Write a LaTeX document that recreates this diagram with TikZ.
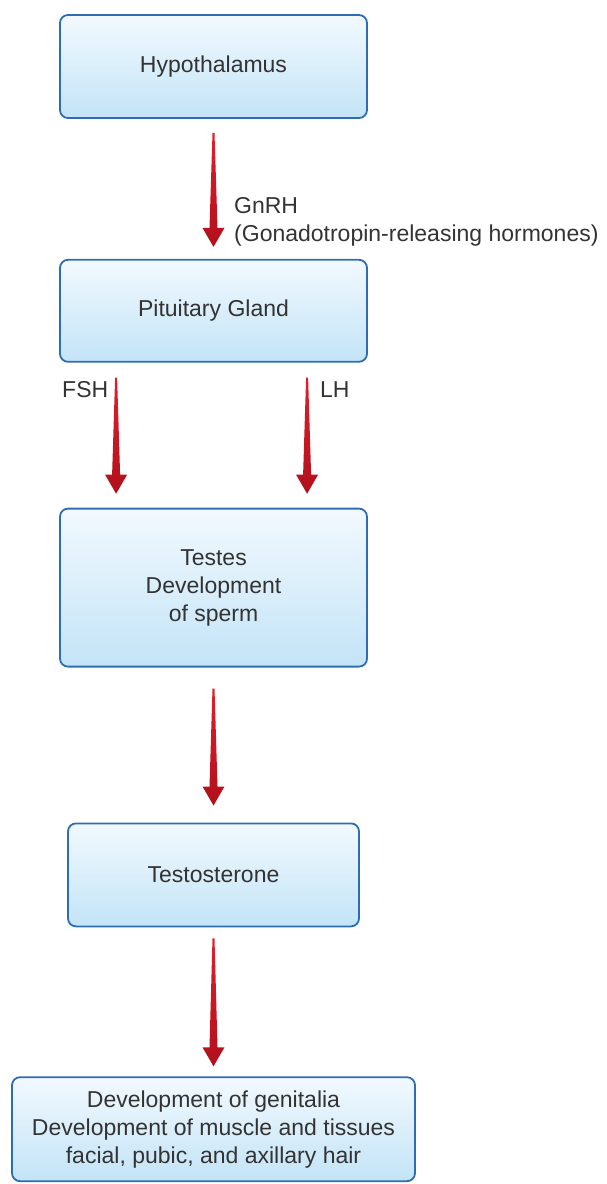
\documentclass[tikz,border=0pt]{standalone}
\usepackage{fontspec}
\setmainfont{Liberation Sans}
\usetikzlibrary{positioning,calc}

\definecolor{boxline}{HTML}{2E6DB4}
\definecolor{boxtop}{HTML}{F2F9FE}
\definecolor{boxbot}{HTML}{C3E4F7}
\definecolor{redtop}{HTML}{E0202A}
\definecolor{redbot}{HTML}{B0101C}
\definecolor{txt}{HTML}{333333}

% tapered red arrow from #1 down to tip #2
\newcommand{\hormonearrow}[2]{%
  \shade[top color=redtop, bottom color=redbot]
    ($(#1)+(-1,0)$) -- ($(#1)+(1,0)$) -- ($(#2)+(4,-19)$) -- ($(#2)+(11,-19)$)
    -- (#2) -- ($(#2)+(-11,-19)$) -- ($(#2)+(-4,-19)$) -- cycle;}

\begin{document}
\begin{tikzpicture}[x=1pt, y=-1pt, node distance=140pt,
  font=\fontsize{23}{28}\selectfont, text=txt]

% Styles
\tikzset{organ/.style={draw=boxline, line width=1.8pt, rounded corners=8pt,
    top color=boxtop, bottom color=boxbot, align=center, inner sep=0pt,
    minimum width=307pt, minimum height=103pt}}
\tikzset{hormone/.style={align=left, inner sep=0pt, anchor=west}}

\useasboundingbox (0,0) rectangle (607,1184);

% Nodes
\node [organ] (hyp) at (213.5,66.5) {Hypothalamus};
\node [organ, below=of hyp, minimum height=102pt] (pit) {Pituitary Gland};
\node [organ, below=145pt of pit, minimum height=158pt] (testes) {Testes\\Development\\of sperm};
\node [organ, below=155pt of testes, minimum width=291pt] (testo) {Testosterone};
\node [organ, below=149pt of testo, minimum width=403pt, minimum height=104pt] (effects)
  {Development of genitalia\\Development of muscle and tissues\\facial, pubic, and axillary hair};

% Arrow ends
\coordinate (gs) at ($(hyp.south)+(0,14)$);
\coordinate (ge) at ($(pit.north)+(0,-12)$);
\coordinate (fs) at ($(pit.south west)+(57,15)$);
\coordinate (fe) at ($(testes.north west)+(57,-14)$);
\coordinate (ls) at ($(pit.south west)+(248,15)$);
\coordinate (le) at ($(testes.north west)+(248,-14)$);
\coordinate (ts) at ($(testes.south)+(0,21)$);
\coordinate (te) at ($(testo.north)+(0,-17)$);
\coordinate (es) at ($(testo.south)+(0,11)$);
\coordinate (ee) at ($(effects.north)+(0,-10)$);

% Connections
\hormonearrow{gs}{ge}
\hormonearrow{fs}{fe}
\hormonearrow{ls}{le}
\hormonearrow{ts}{te}
\hormonearrow{es}{ee}

% Labels
\node [hormone] (gnrh) at (234,222) {GnRH\\(Gonadotropin-releasing hormones)};
\node [hormone] (fsh) at (62,390) {FSH};
\node [hormone] (lh) at (320,390) {LH};

\end{tikzpicture}
\end{document}
